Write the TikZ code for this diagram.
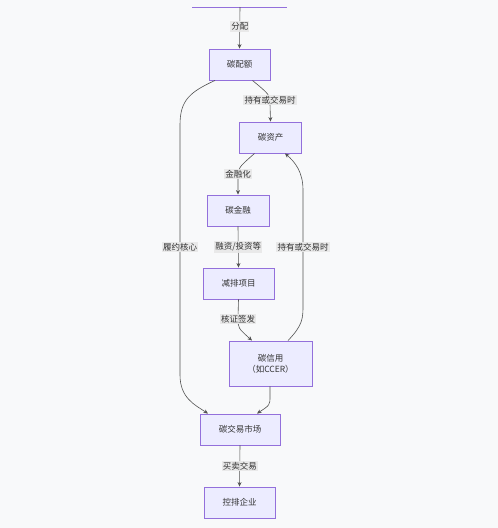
\documentclass[tikz,border=0pt]{standalone}
\usepackage{fontspec}
\setmainfont{Noto Sans CJK SC}
\usetikzlibrary{arrows.meta,calc}
\definecolor{bgc}{HTML}{F8F9FA}
\definecolor{nfill}{HTML}{ECECFF}
\definecolor{nborder}{HTML}{9370DB}
\definecolor{txt}{HTML}{333333}
\definecolor{lblbg}{HTML}{E8E8E8}
\tikzset{
  box/.style={draw=nborder, fill=nfill, line width=0.9pt, text=txt, font=\fontsize{8.5}{11}\selectfont, align=center, inner sep=0pt},
  conn/.style={draw=txt!85, line width=0.6pt, -{Stealth[length=4.5pt,width=4pt]}},
  lbl/.style={fill=lblbg, text=txt, font=\fontsize{8.5}{10}\selectfont, inner sep=1.2pt, fill opacity=0.9, text opacity=1},
}
\begin{document}
\begin{tikzpicture}[x=1pt,y=-1pt]
\useasboundingbox[fill=bgc] (0,0) rectangle (498,528);
% cut-off top node edge
\draw[nborder, line width=0.9pt] (192,7) -- (287,7);
\coordinate (top) at (240,7);

\node[box, minimum width=61pt, minimum height=31pt] (cpe) at (239.5,64.5) {碳配额};
\node[box, minimum width=62pt, minimum height=31pt] (czc) at (270.5,137.5) {碳资产};
\node[box, minimum width=62pt, minimum height=31pt] (cjr) at (238,210.5) {碳金融};
\node[box, minimum width=71pt, minimum height=31pt] (jp) at (238.5,283.5) {减排项目};
\node[box, minimum width=83pt, minimum height=45pt] (cxy) at (270.5,363.5) {碳信用\\（如CCER）};
\node[box, minimum width=80pt, minimum height=31pt] (sc) at (240,429.5) {碳交易市场};
\node[box, minimum width=71pt, minimum height=31pt] (qy) at (239.5,502.5) {控排企业};

% top -> cpe
\draw[conn] (top) -- (cpe.north) node[lbl, pos=0.47] {分配};
% cpe -> czc
\draw[conn] ($(cpe.south)+(13,0)$) .. controls (270,95) .. (270,104) -- (czc.north);
\node[lbl] (l1) at (270,100) {持有或交易时};
% czc -> cjr
\draw[conn] ($(czc.south)+(-16,0)$) .. controls (238,168) .. (238,178) -- (cjr.north);
\node[lbl] (l2) at (238,174) {金融化};
% cjr -> jp
\draw[conn] (cjr.south) -- (jp.south |- jp.north) node[lbl, pos=0.5] {融资/投资等};
% jp -> cxy
\draw[conn] (jp.south) -- (238,318) .. controls (238,328) .. ($(cxy.north)+(-18.5,0)$);
\node[lbl] (l3) at (238,319) {核证签发};
% cxy -> czc
\draw[conn] ($(cxy.north)+(17.5,0)$) .. controls (303,325) and (303,318) .. (303,305) -- (303,190) .. controls (303,172) and (295,162) .. ($(czc.south)+(14.5,0)$);
\node[lbl] (l4) at (303,247) {持有或交易时};
% cpe -> sc
\draw[conn] ($(cpe.south)+(-24.5,0)$) .. controls (190,92) and (180,100) .. (180,125) -- (180,375) .. controls (180,398) and (195,405) .. ($(sc.north)+(-32,0)$);
\node[lbl] (l5) at (180,247) {履约核心};
% cxy -> sc
\draw[conn] ($(cxy.south)+(-0.5,0)$) -- (270,396) .. controls (270,405) .. ($(sc.north)+(17,0)$);
% sc -> qy
\draw[conn] (sc.south) -- (qy.north) node[lbl, pos=0.5] {买卖交易};
\end{tikzpicture}
\end{document}
